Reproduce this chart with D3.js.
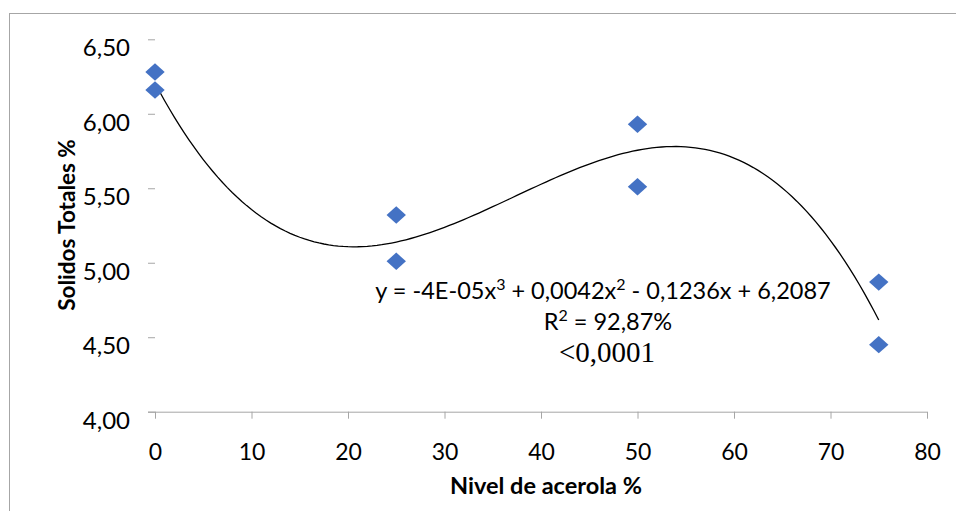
<!DOCTYPE html>
<html><head><meta charset="utf-8">
<script src="https://cdn.jsdelivr.net/npm/d3@7"></script>
<style>
html,body{margin:0;padding:0;background:#fff;}
svg{display:block;}
</style></head>
<body>
<svg id="chart" width="956" height="511"></svg>
<script>
// ---- data ----
const levels = [0, 0, 25, 25, 50, 50, 75, 75];
const solids = [6.28, 6.16, 5.32, 5.01, 5.93, 5.51, 4.87, 4.45];
const xTicks = [0, 10, 20, 30, 40, 50, 60, 70, 80];
const yTicks = [4.0, 4.5, 5.0, 5.5, 6.0, 6.5];
const yTickLabels = ["4,00", "4,50", "5,00", "5,50", "6,00", "6,50"];
// polynomial trend line coefficients as drawn (c0 + c1 x + c2 x^2 + c3 x^3)
const trendCoef = [6.206, -0.12221, 0.0040984, -0.00003669];
const trendRange = [0, 75];
// equation label pieces: [text, isSuperscript]
const eqLine1 = [["y = -4E-05x", false], ["3", true], [" + 0,0042x", false], ["2", true], [" - 0,1236x + 6,2087", false]];
const eqLine2 = [["R", false], ["2", true], [" = 92,87%", false]];
const pLabel = "<0,0001";
const xTitle = "Nivel de acerola %";
const yTitle = "Solidos Totales %";

const svg = d3.select("#chart");
const W = 956, H = 511;
const x = d3.scaleLinear().domain([0, 80]).range([155, 927]);
const y = d3.scaleLinear().domain([4, 6.5]).range([411.7, 39.3]);

// outer frame
svg.append("rect").attr("x", 9.5).attr("y", 13.5).attr("width", W + 20).attr("height", H + 20)
  .attr("fill", "none").attr("stroke", "#a6a6a6").attr("stroke-width", 1);

const font = "Lato, 'Open Sans', sans-serif";

// y axis (ticks only)
const yAxis = svg.append("g").attr("transform", `translate(${x(0)},0)`)
  .call(d3.axisLeft(y).tickValues(yTicks).tickSize(7).tickPadding(18)
    .tickFormat((d, i) => yTickLabels[i]));
yAxis.select(".domain").remove();
yAxis.selectAll("line").attr("stroke", "#a6a6a6");
yAxis.selectAll("text").attr("y", 9).attr("fill", "#000")
  .style("font-family", font).style("font-size", "24px");

// x axis
const xAxis = svg.append("g").attr("transform", `translate(0,${y(4)})`)
  .call(d3.axisBottom(x).tickValues(xTicks).tickSize(7).tickPadding(25).tickFormat(d3.format("d")));
xAxis.select(".domain").remove();
xAxis.append("line").attr("x1", x(0) - 7).attr("x2", x(80)).attr("y1", 0.5).attr("y2", 0.5)
  .attr("stroke", "#a6a6a6");
xAxis.selectAll(".tick line").attr("stroke", "#a6a6a6");
xAxis.selectAll("text").attr("fill", "#000")
  .style("font-family", font).style("font-size", "23px");

// trend line
const poly = v => trendCoef.reduce((s, c, k) => s + c * Math.pow(v, k), 0);
const xs = d3.range(trendRange[0], trendRange[1] + 0.001, 0.5);
svg.append("path")
  .datum(xs)
  .attr("d", d3.line().x(d => x(d)).y(d => y(poly(d))))
  .attr("fill", "none").attr("stroke", "#000").attr("stroke-width", 1.3);

// markers (diamonds)
const hw = 9.7, hh = 8.7;
svg.append("g").selectAll("path").data(levels.map((l, i) => [l, solids[i]])).join("path")
  .attr("d", d => {
    const cx = x(d[0]), cy = y(d[1]);
    return `M${cx},${cy - hh}L${cx + hw},${cy}L${cx},${cy + hh}L${cx - hw},${cy}Z`;
  })
  .attr("fill", "#4472C4");

// equation labels
const eq = svg.append("g").style("font-family", font).attr("text-anchor", "middle").attr("fill", "#000");
function eqText(parts, cx, cy, size) {
  const t = eq.append("text").attr("x", cx).attr("y", cy).style("font-size", size + "px");
  parts.forEach(([s, sup]) => {
    const ts = t.append("tspan").text(s);
    if (sup) ts.style("font-size", Math.round(size * 0.68) + "px").attr("baseline-shift", "super");
  });
}
eqText(eqLine1, 603, 299, 23.5);
eqText(eqLine2, 608, 330, 23.5);
eq.append("text").attr("x", 607).attr("y", 362).style("font-family", "'Liberation Serif', 'Times New Roman', serif")
  .style("font-size", "29px").text(pLabel);

// axis titles
svg.append("text").attr("x", 546).attr("y", 494).attr("text-anchor", "middle")
  .style("font-family", font).style("font-weight", "bold").style("font-size", "23.5px").text(xTitle);
svg.append("text").attr("transform", "translate(75,225) rotate(-90)").attr("text-anchor", "middle")
  .style("font-family", font).style("font-weight", "bold").style("font-size", "22.5px").text(yTitle);
</script>
</body></html>
